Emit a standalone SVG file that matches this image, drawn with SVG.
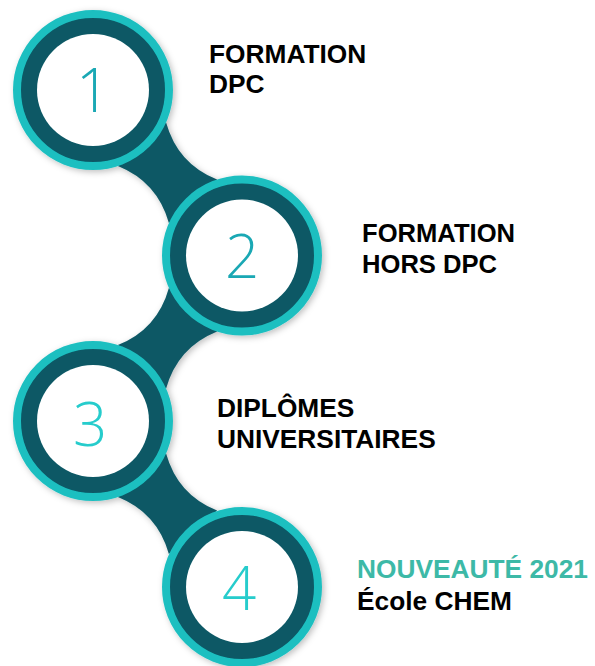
<svg xmlns="http://www.w3.org/2000/svg" xmlns:xlink="http://www.w3.org/1999/xlink" width="595" height="666" viewBox="0 0 595 666">
<style>
.ring{fill:#0b5865;stroke:#1cbfc0;stroke-width:8}
.hole{fill:#ffffff}
.bridge{fill:#0b5865}
.num{font-family:"Open Sans","Liberation Sans",sans-serif;font-weight:300;font-size:60px;text-anchor:middle}
.n12{fill:#1aa8b4}
.n34{fill:#26cccc}
.lbl{font-family:"Liberation Sans",Arial,sans-serif;font-weight:bold;font-size:26.3px;fill:#000000}
.new{fill:#3db9a7}
</style>
<defs>
<filter id="sh" x="-20%" y="-20%" width="140%" height="140%">
<feDropShadow dx="2" dy="2" stdDeviation="3" flood-color="#000000" flood-opacity="0.25"/>
</filter>
<path id="br" d="M117.9,166 Q157.4,181.9 168.9,223.1 L217.1,179.5 Q177.6,163.7 166.1,122.4 Z"/>
</defs>
<rect width="595" height="666" fill="#ffffff"/>
<g filter="url(#sh)">
<g id="connectors">
<use xlink:href="#br" class="bridge"/>
<use xlink:href="#br" class="bridge" transform="translate(335,165.5) scale(-1,1)"/>
<use xlink:href="#br" class="bridge" transform="translate(0,331)"/>
</g>
<g id="node1">
<circle class="ring" cx="93" cy="90" r="76"/>
<circle class="hole" cx="93" cy="90" r="56"/>
</g>
<g id="node2">
<circle class="ring" cx="242" cy="255.5" r="76"/>
<circle class="hole" cx="242" cy="255.5" r="56"/>
</g>
<g id="node3">
<circle class="ring" cx="93" cy="421" r="76"/>
<circle class="hole" cx="93" cy="421" r="56"/>
</g>
<g id="node4">
<circle class="ring" cx="242" cy="587" r="76"/>
<circle class="hole" cx="242" cy="587" r="56"/>
</g>
</g>
<g id="numbers">
<text class="num n12" x="93" y="112">1</text>
<text class="num n12" x="242" y="278">2</text>
<text class="num n34" x="90" y="446">3</text>
<text class="num n34" x="239" y="610">4</text>
</g>
<g id="labels">
<text class="lbl" x="209" y="63">FORMATION</text>
<text class="lbl" x="209" y="93">DPC</text>
<text class="lbl" x="362" y="242" style="font-size:25.6px">FORMATION</text>
<text class="lbl" x="362" y="273" style="font-size:25.6px">HORS DPC</text>
<text class="lbl" x="217" y="417">DIPLÔMES</text>
<text class="lbl" x="217" y="448">UNIVERSITAIRES</text>
<text class="lbl new" x="357" y="578">NOUVEAUTÉ 2021</text>
<text class="lbl" x="357" y="610">École CHEM</text>
</g>
</svg>
